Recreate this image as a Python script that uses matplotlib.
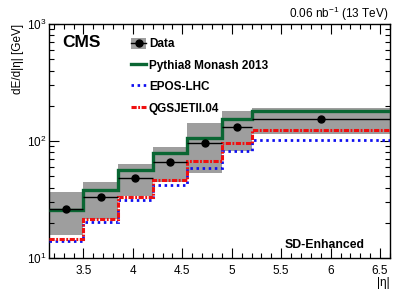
import numpy as np
import matplotlib
matplotlib.use("Agg")
import matplotlib.pyplot as plt
import matplotlib.ticker as mticker
from matplotlib.patches import Patch
from matplotlib.lines import Line2D

# bin edges in |eta|
eta_edges = [3.152, 3.5, 3.85, 4.2, 4.55, 4.9, 5.2, 6.6]

# dE/d|eta| [GeV]
data_vals = [26.2, 33.2, 48.3, 65.8, 97.0, 132.0, 153.0]
syst_low = [15.7, 21.5, 34.0, 44.7, 53.2, 82.6, 114.8]
syst_high = [36.6, 44.4, 63.6, 89.4, 141.7, 181.5, 189.6]
pythia_vals = [25.7, 38.1, 56.5, 78.5, 105.5, 153.2, 181.5]
epos_vals = [14.1, 20.4, 31.3, 42.1, 58.5, 82.6, 101.0]
qgsjet_vals = [14.5, 21.5, 33.0, 46.4, 67.9, 95.6, 124.2]

BAND_COLOR = "#9e9e9e"
GREEN = "#0a6633"
BLUE = "#1010f0"
RED = "#f01010"
EPOS_STYLE = (0, (0.9, 1.3))
QGS_STYLE = (0, (1.7, 0.5, 0.6, 0.5))

plt.rcParams.update({
    "font.family": ["Liberation Sans", "DejaVu Sans"],
    "mathtext.fontset": "custom",
    "mathtext.rm": "Liberation Sans",
    "mathtext.it": "Liberation Sans:italic",
    "mathtext.bf": "Liberation Sans:bold",
})

fig = plt.figure(figsize=(4.07, 2.94), dpi=100)
ax = fig.add_axes([0.1204, 0.1224, 0.8378, 0.796])

edges = np.array(eta_edges)
centers = 0.5 * (edges[:-1] + edges[1:])
half_w = 0.5 * np.diff(edges)
lo = np.array(syst_low)
hi = np.array(syst_high)

ax.bar(edges[:-1], hi - lo, width=np.diff(edges), bottom=lo, align="edge",
       color=BAND_COLOR, edgecolor="none", zorder=1)
ax.stairs(epos_vals, edges, baseline=None, color=BLUE, lw=2.0, linestyle=EPOS_STYLE, zorder=3)
ax.stairs(qgsjet_vals, edges, baseline=None, color=RED, lw=2.2, linestyle=QGS_STYLE, zorder=3)
ax.stairs(pythia_vals, edges, baseline=None, color=GREEN, lw=2.4, zorder=4)
ax.errorbar(centers, data_vals, xerr=half_w, fmt="o", color="black", ms=5,
            elinewidth=1.0, capsize=0, zorder=5)

ax.set_yscale("log")
ax.set_xlim(edges[0], edges[-1])
ax.set_ylim(10, 1000)
ax.xaxis.set_major_locator(mticker.MultipleLocator(0.5))
ax.xaxis.set_minor_locator(mticker.MultipleLocator(0.1))
ax.xaxis.set_major_formatter(mticker.FormatStrFormatter("%g"))
ax.yaxis.set_major_locator(mticker.LogLocator(base=10, numticks=5))
ax.yaxis.set_minor_locator(mticker.LogLocator(base=10, subs=np.arange(2, 10), numticks=20))
ax.yaxis.set_minor_formatter(mticker.NullFormatter())
ax.tick_params(which="both", direction="in", top=True, right=True, labelsize=8.5)
ax.tick_params(which="major", length=7, width=0.8)
ax.tick_params(which="minor", length=3.5, width=0.8)
ax.tick_params(axis="x", pad=5)
ax.tick_params(axis="y", pad=2)
for sp in ax.spines.values():
    sp.set_linewidth(1.0)

ax.set_xlabel("|\u03b7|", fontsize=8.5, ha="right", x=1.0, labelpad=0)
ax.set_ylabel("dE/d|\u03b7| [GeV]", fontsize=8.5, ha="right", y=1.0, labelpad=2)

fig.text(0.953, 0.952, r"0.06 nb$^{-1}$ (13 TeV)", ha="right", va="center", fontsize=8.5)
ax.text(0.038, 0.92, "CMS", transform=ax.transAxes, fontsize=12.5, fontweight="bold",
        ha="left", va="center")
ax.text(0.925, 0.055, "SD-Enhanced", transform=ax.transAxes, fontsize=8.8,
        fontweight="bold", ha="right", va="center")

handles = [
    (Patch(facecolor=BAND_COLOR, edgecolor="none"),
     Line2D([], [], color="black", lw=1.0, marker="o", ms=5)),
    Line2D([], [], color=GREEN, lw=2.4),
    Line2D([], [], color=BLUE, lw=2.0, linestyle=EPOS_STYLE),
    Line2D([], [], color=RED, lw=2.2, linestyle=QGS_STYLE),
]
labels = ["Data", "Pythia8 Monash 2013", "EPOS-LHC", "QGSJETII.04"]
leg = ax.legend(handles, labels, loc="upper left", bbox_to_anchor=(0.224, 0.967),
                frameon=False, fontsize=8.5, handlelength=1.25, handleheight=1.15,
                handletextpad=0.25, labelspacing=0.72, borderpad=0)
for t in leg.get_texts():
    t.set_fontweight("bold")

fig.savefig("out.png", dpi=100)
